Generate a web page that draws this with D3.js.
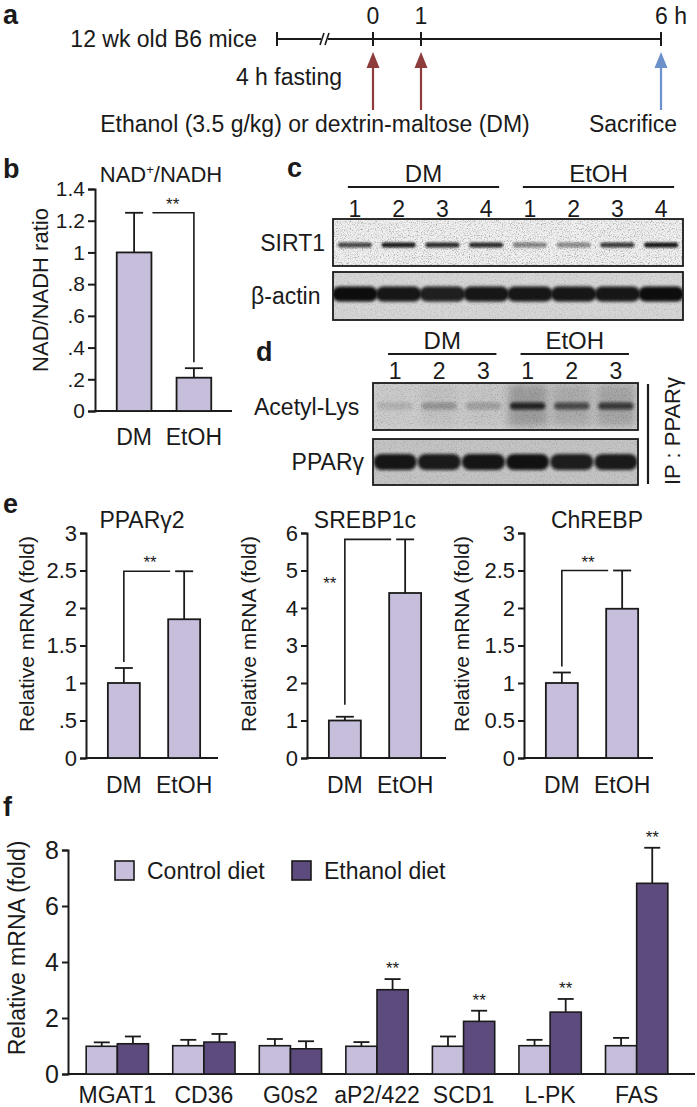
<!DOCTYPE html>
<html><head><meta charset="utf-8">
<script src="https://cdn.jsdelivr.net/npm/d3@7"></script>
<style>
body{margin:0;background:#fff}
svg{display:block}
</style>
</head><body>
<svg id="fig" width="697" height="1107"></svg>
<script>
// ================= DATA =================
// panel a : timeline (hours)
const timePoints = [0, 1, 6];
const timeLabels = ["0", "1", "6 h"];
const doseTimes = [0, 1];
const sacrificeTimes = [6];

// panel b : NAD+/NADH
const nadGroups = ["DM", "EtOH"];
const nadMeans = [1.0, 0.21];
const nadErrors = [0.25, 0.06];
const nadTicks = [0, 0.2, 0.4, 0.6, 0.8, 1.0, 1.2, 1.4];
const nadTickLabels = ["0", ".2", ".4", ".6", ".8", "1", "1.2", "1.4"];

// panel c : SIRT1 western blot (relative band intensity per lane)
const blotCGroups = ["DM", "EtOH"];
const blotCLanes = ["1", "2", "3", "4", "1", "2", "3", "4"];
const sirt1Bands = [0.72, 0.92, 0.85, 0.85, 0.45, 0.42, 0.78, 0.95];
const actinBands = [1.0, 0.95, 0.9, 0.95, 0.95, 0.95, 0.95, 1.0];

// panel d : IP PPARγ
const blotDGroups = ["DM", "EtOH"];
const blotDLanes = ["1", "2", "3", "1", "2", "3"];
const acetylBands = [0.12, 0.25, 0.2, 0.85, 0.62, 0.72];
const ppargBands = [0.95, 0.92, 0.95, 0.97, 0.9, 0.92];

// panel e : relative mRNA
const eGroups = ["DM", "EtOH"];
const eTitles = ["PPARγ2", "SREBP1c", "ChREBP"];
const ppargMeans = [1.0, 1.85];
const ppargErrors = [0.2, 0.64];
const srebpMeans = [1.0, 4.4];
const srebpErrors = [0.1, 1.43];
const chrebpMeans = [1.0, 1.99];
const chrebpErrors = [0.14, 0.51];
const ppargTicks = [0, 0.5, 1, 1.5, 2, 2.5, 3];
const ppargTickLabels = ["0", ".5", "1", "1.5", "2", "2.5", "3"];
const srebpTicks = [0, 1, 2, 3, 4, 5, 6];
const srebpTickLabels = ["0", "1", "2", "3", "4", "5", "6"];
const chrebpTicks = [0, 0.5, 1, 1.5, 2, 2.5, 3];
const chrebpTickLabels = ["0", "0.5", "1", "1.5", "2", "2.5", "3"];

// panel f : lipogenic genes
const genes = ["MGAT1", "CD36", "G0s2", "aP2/422", "SCD1", "L-PK", "FAS"];
const seriesNames = ["Control diet", "Ethanol diet"];
const controlMeans = [0.99, 1.01, 1.01, 0.99, 0.99, 1.01, 1.01];
const controlErrors = [0.14, 0.21, 0.24, 0.15, 0.35, 0.21, 0.28];
const ethanolMeans = [1.08, 1.14, 0.90, 3.01, 1.88, 2.21, 6.81];
const ethanolErrors = [0.26, 0.29, 0.27, 0.38, 0.38, 0.47, 1.27];
const ethanolSignificant = [false, false, false, true, true, true, true];
const fTicks = [0, 2, 4, 6, 8];

// ================= STYLE =================
const FONT = "'Liberation Sans', Arial, Helvetica, sans-serif";
const INK = "#1a1a1a";
const LIGHT = "#c6bedb";
const DARK = "#5c4b7c";
const RED = "#8e3b3b";
const BLUE = "#6c90c9";

const svg = d3.select("#fig");
const defs = svg.append("defs");
[1, 1.6, 2.5, 4].forEach((s, i) => {
  defs.append("filter").attr("id", "blur" + i).attr("x", "-50%").attr("y", "-100%")
    .attr("width", "200%").attr("height", "300%")
    .append("feGaussianBlur").attr("stdDeviation", s);
});
const noise = defs.append("filter").attr("id", "noise").attr("x", 0).attr("y", 0)
  .attr("width", "100%").attr("height", "100%");
noise.append("feTurbulence").attr("type", "fractalNoise").attr("baseFrequency", 0.85)
  .attr("numOctaves", 2).attr("seed", 7);
noise.append("feColorMatrix").attr("type", "matrix")
  .attr("values", "0 0 0 0 0  0 0 0 0 0  0 0 0 0 0  1.6 0 0 0 -0.78");

function addText(parent, x, y, str, size, anchor = "middle", weight = "normal") {
  return parent.append("text").attr("x", x).attr("y", y)
    .attr("font-size", size).attr("text-anchor", anchor)
    .attr("font-weight", weight).attr("font-family", FONT)
    .attr("fill", INK).text(str);
}
function vText(parent, cx, cy, str, size) {
  return parent.append("text").attr("transform", `translate(${cx},${cy}) rotate(-90)`)
    .attr("font-size", size).attr("text-anchor", "middle").attr("dominant-baseline", "central")
    .attr("font-family", FONT).attr("fill", INK).text(str);
}
function styleAxis(g, size) {
  g.attr("font-family", FONT).attr("font-size", size);
  g.selectAll("path.domain").attr("stroke", INK).attr("stroke-width", 2);
  g.selectAll(".tick line").attr("stroke", INK).attr("stroke-width", 2);
  g.selectAll(".tick text").attr("fill", INK);
}

// ================= PANEL A =================
{
  const g = svg.append("g");
  const xT = d3.scaleLinear().domain([0, 6]).range([373, 661]);
  const yL = 39;
  addText(g, 3, 24, "a", 27, "start", "bold");
  addText(g, 257, yL + 8, "12 wk old B6 mice", 23, "end");
  g.append("line").attr("x1", xT(-2)).attr("x2", xT(6)).attr("y1", yL).attr("y2", yL)
    .attr("stroke", INK).attr("stroke-width", 2.2);
  g.append("line").attr("x1", xT(-2)).attr("x2", xT(-2)).attr("y1", yL - 7).attr("y2", yL + 7)
    .attr("stroke", INK).attr("stroke-width", 2);
  const bx = xT(-1);
  g.append("rect").attr("x", bx - 4).attr("y", yL - 3).attr("width", 7).attr("height", 6).attr("fill", "#fff");
  [-3, 2].forEach(o => g.append("line").attr("x1", bx + o - 2).attr("x2", bx + o + 2)
    .attr("y1", yL + 6).attr("y2", yL - 6).attr("stroke", INK).attr("stroke-width", 1.6));
  timePoints.forEach((t, i) => {
    g.append("line").attr("x1", xT(t)).attr("x2", xT(t)).attr("y1", yL - 7).attr("y2", yL + 7)
      .attr("stroke", INK).attr("stroke-width", 2);
    if (timeLabels[i].length > 1) addText(g, xT(t) - 6, 24, timeLabels[i], 23, "start");
    else addText(g, xT(t), 24, timeLabels[i], 23);
  });
  function arrow(x, color) {
    g.append("line").attr("x1", x).attr("x2", x).attr("y1", 110).attr("y2", 64)
      .attr("stroke", color).attr("stroke-width", 2.2);
    g.append("path").attr("d", `M${x},52 L${x - 6.5},68 L${x + 6.5},68 Z`).attr("fill", color);
  }
  doseTimes.forEach(t => arrow(xT(t), RED));
  sacrificeTimes.forEach(t => arrow(xT(t), BLUE));
  addText(g, 289, 85, "4 h fasting", 23);
  addText(g, 315, 132, "Ethanol (3.5 g/kg) or dextrin-maltose (DM)", 23);
  addText(g, 633, 132, "Sacrifice", 23);
}

// ================= generic bar chart =================
function barChart(opt) {
  const g = svg.append("g");
  const y = d3.scaleLinear().domain([0, opt.max]).range([opt.y0, opt.yTop]);
  const x = d3.scaleBand().domain(opt.groups).range([opt.ax + 8, opt.ax + opt.inner])
    .paddingInner(opt.pi).paddingOuter(0.23);
  const ag = g.append("g").attr("transform", `translate(${opt.ax},0)`)
    .call(d3.axisLeft(y).tickValues(opt.ticks).tickFormat((d, i) => opt.tickLabels[i])
      .tickSizeOuter(0).tickSize(opt.tick).tickPadding(3));
  styleAxis(ag, opt.fs);
  g.append("line").attr("x1", opt.ax - 1).attr("x2", opt.axEnd).attr("y1", opt.y0).attr("y2", opt.y0)
    .attr("stroke", INK).attr("stroke-width", 2);
  const bw = x.bandwidth();
  opt.groups.forEach((k, i) => {
    const m = opt.means[i], e = opt.errs[i], cx = x(k) + bw / 2;
    g.append("line").attr("x1", cx).attr("x2", cx).attr("y1", y(m)).attr("y2", y(m + e))
      .attr("stroke", INK).attr("stroke-width", 1.8);
    g.append("line").attr("x1", cx - 9).attr("x2", cx + 9).attr("y1", y(m + e)).attr("y2", y(m + e))
      .attr("stroke", INK).attr("stroke-width", 1.8);
    g.append("rect").attr("x", x(k)).attr("y", y(m)).attr("width", bw).attr("height", y(0) - y(m))
      .attr("fill", LIGHT).attr("stroke", INK).attr("stroke-width", 1.8);
    addText(g, cx, opt.y0 + opt.labelDy, k, opt.xfs || opt.fs);
  });
  const t = addText(g, opt.titleX, opt.titleY, opt.title, opt.tfs || opt.fs);
  if (opt.titleHtml) { t.text(null); opt.titleHtml(t); }
  vText(g, opt.ylabX, opt.ylabY, opt.ylab, opt.yfs || opt.fs);
  return { g, x, y, bw };
}

// ================= PANEL B =================
{
  const c = barChart({
    ax: 95, axEnd: 232, y0: 411, yTop: 189, max: 1.4, inner: 130, pi: 0.42,
    groups: nadGroups, means: nadMeans, errs: nadErrors,
    ticks: nadTicks, tickLabels: nadTickLabels, tick: 7, fs: 21, xfs: 23, yfs: 22, labelDy: 34,
    title: "NAD+/NADH", titleX: 161, titleY: 182, tfs: 22,
    titleHtml: t => { t.append("tspan").text("NAD"); t.append("tspan").attr("font-size", 13).attr("dy", -8).text("+");
      t.append("tspan").attr("dy", 8).text("/NADH"); },
    ylab: "NAD/NADH ratio", ylabX: 40, ylabY: 290
  });
  addText(c.g, 3, 178, "b", 27, "start", "bold");
  const { g, x, y, bw } = c;
  const lvl = y(nadMeans[0] + nadErrors[0]);
  const x2 = x("EtOH") + bw / 2;
  g.append("path").attr("d", `M${x("DM") + bw + 1},${lvl} H${x2} V${y(nadMeans[1] + nadErrors[1]) - 6}`)
    .attr("fill", "none").attr("stroke", INK).attr("stroke-width", 1.6);
  addText(g, (x("DM") + bw + x2) / 2, lvl - 3, "**", 17);
}

// ================= western blot helper =================
function blot(opt) {
  const g = svg.append("g");
  const x = d3.scaleBand().domain(d3.range(opt.bands.length)).range([opt.x0, opt.x1]);
  const clipId = "clip" + opt.id;
  g.append("clipPath").attr("id", clipId).append("rect")
    .attr("x", opt.x0).attr("y", opt.y0).attr("width", opt.x1 - opt.x0).attr("height", opt.y1 - opt.y0);
  const inner = g.append("g").attr("clip-path", `url(#${clipId})`);
  inner.append("rect").attr("x", opt.x0).attr("y", opt.y0).attr("width", opt.x1 - opt.x0)
    .attr("height", opt.y1 - opt.y0).attr("fill", opt.bg);
  if (opt.shade) opt.shade(inner, x);
  opt.bands.forEach((v, i) => {
    const w = x.bandwidth() * opt.bw;
    const cx = x(i) + x.bandwidth() / 2;
    inner.append("rect").attr("x", cx - w / 2).attr("y", opt.by - opt.bh / 2)
      .attr("width", w).attr("height", opt.bh).attr("rx", opt.bh / 2)
      .attr("fill", "#0d0d0d").attr("opacity", v).attr("filter", `url(#blur${opt.blur})`);
  });
  inner.append("rect").attr("x", opt.x0).attr("y", opt.y0).attr("width", opt.x1 - opt.x0)
    .attr("height", opt.y1 - opt.y0).attr("filter", "url(#noise)").attr("opacity", opt.noise);
  g.append("rect").attr("x", opt.x0).attr("y", opt.y0).attr("width", opt.x1 - opt.x0)
    .attr("height", opt.y1 - opt.y0).attr("fill", "none").attr("stroke", INK).attr("stroke-width", 1.8);
  addText(g, opt.labX, (opt.y0 + opt.y1) / 2 + 8, opt.label, 23, opt.labAnchor || "end");
  return x;
}
function laneHeader(x, lanes, groups, yNum, yLine) {
  const g = svg.append("g");
  const per = lanes.length / groups.length;
  lanes.forEach((l, i) => addText(g, x(i) + x.bandwidth() / 2, yNum, l, 23));
  groups.forEach((gr, j) => {
    const a = x(j * per) + x.bandwidth() / 2 - 7, b = x(j * per + per - 1) + x.bandwidth() / 2 + 13;
    g.append("line").attr("x1", a).attr("x2", b).attr("y1", yLine).attr("y2", yLine)
      .attr("stroke", INK).attr("stroke-width", 2.2);
    addText(g, (a + b) / 2, yLine - 5, gr, 24);
  });
}

// ================= PANEL C =================
{
  addText(svg, 287, 177, "c", 27, "start", "bold");
  const x = blot({ id: "s", bands: sirt1Bands, x0: 333, x1: 683, y0: 219, y1: 266, bg: "#efefef",
    by: 245, bh: 5, bw: 0.78, blur: 0, noise: 0.55, label: "SIRT1", labX: 325 });
  blot({ id: "a", bands: actinBands, x0: 333, x1: 683, y0: 272, y1: 320, bg: "#d6d6d6",
    by: 294, bh: 15, bw: 1.05, blur: 1, noise: 0.25, label: "β-actin", labX: 251, labAnchor: "start" });
  laneHeader(x, blotCLanes, blotCGroups, 217, 187);
}

// ================= PANEL D =================
{
  addText(svg, 256, 361, "d", 27, "start", "bold");
  const x = blot({ id: "ac", bands: acetylBands, x0: 373, x1: 638, y0: 383, y1: 430, bg: "#d3d3d3",
    by: 406, bh: 7, bw: 0.8, blur: 1, noise: 0.3, label: "Acetyl-Lys", labX: 254, labAnchor: "start",
    shade: (inner, xs) => {
      acetylBands.forEach((v, i) => {
        inner.append("rect").attr("x", xs(i) + 2).attr("y", 383).attr("width", xs.bandwidth() - 4)
          .attr("height", 44).attr("fill", "#222").attr("opacity", v * 0.35).attr("filter", "url(#blur3)");
      });
    } });
  blot({ id: "pp", bands: ppargBands, x0: 373, x1: 638, y0: 439, y1: 485, bg: "#c4c4c4",
    by: 462, bh: 16, bw: 0.98, blur: 1, noise: 0.25, label: "PPARγ", labX: 364 });
  laneHeader(x, blotDLanes, blotDGroups, 379, 354);
  svg.append("line").attr("x1", 648).attr("x2", 648).attr("y1", 384).attr("y2", 484)
    .attr("stroke", INK).attr("stroke-width", 2.2);
  vText(svg, 672, 431, "IP : PPARγ", 22);
}

// ================= PANEL E =================
{
  addText(svg, 3, 513, "e", 27, "start", "bold");
  const common = { y0: 758, yTop: 533, inner: 128, pi: 0.47, groups: eGroups, tick: 6, fs: 22, xfs: 23, tfs: 23, yfs: 21,
    labelDy: 35, titleY: 528, ylabY: 634 };
  const brk = (c, means, errs, mode) => {
    const { g, x, y, bw } = c;
    const cx1 = x("DM") + bw / 2, cx2 = x("EtOH") + bw / 2;
    const lvl = y(means[1] + errs[1]);
    g.append("path").attr("d", `M${cx1},${y(means[0] + errs[0]) - (mode ? 12 : 6)} V${lvl} H${cx2 - 14}`)
      .attr("fill", "none").attr("stroke", INK).attr("stroke-width", 1.6);
    if (mode) addText(g, cx1 - 15, lvl + 50, "**", 17);
    else addText(g, (cx1 + cx2) / 2 - 4, lvl - 3, "**", 17);
  };
  const c1 = barChart(Object.assign({}, common, { ax: 86, axEnd: 218, max: 3, means: ppargMeans, errs: ppargErrors,
    ticks: ppargTicks, tickLabels: ppargTickLabels, title: eTitles[0], titleX: 142, ylab: "Relative mRNA (fold)", ylabX: 26 }));
  brk(c1, ppargMeans, ppargErrors, 0);
  const c2 = barChart(Object.assign({}, common, { ax: 307, axEnd: 446, max: 6, means: srebpMeans, errs: srebpErrors,
    ticks: srebpTicks, tickLabels: srebpTickLabels, title: eTitles[1], titleX: 365, ylab: "Relative mRNA (fold)", ylabX: 248 }));
  brk(c2, srebpMeans, srebpErrors, 1);
  const c3 = barChart(Object.assign({}, common, { ax: 524, axEnd: 653, max: 3, means: chrebpMeans, errs: chrebpErrors,
    ticks: chrebpTicks, tickLabels: chrebpTickLabels, title: eTitles[2], titleX: 597, ylab: "Relative mRNA (fold)", ylabX: 461 }));
  brk(c3, chrebpMeans, chrebpErrors, 0);
}

// ================= PANEL F =================
{
  const g = svg.append("g");
  addText(g, 3, 816, "f", 27, "start", "bold");
  const y = d3.scaleLinear().domain([0, 8]).range([1074, 850]);
  const x0 = d3.scaleBand().domain(genes).range([68, 686]).paddingInner(0.28).paddingOuter(0.21);
  const x1 = d3.scaleBand().domain(seriesNames).range([0, x0.bandwidth()]);
  const ag = g.append("g").attr("transform", "translate(68,0)")
    .call(d3.axisLeft(y).tickValues(fTicks).tickFormat(d3.format("d")).tickSizeOuter(0).tickSize(6).tickPadding(3));
  styleAxis(ag, 25);
  g.append("line").attr("x1", 67).attr("x2", 695).attr("y1", y(0)).attr("y2", y(0))
    .attr("stroke", INK).attr("stroke-width", 2);
  vText(g, 17, 948, "Relative mRNA (fold)", 23);
  const series = [
    { name: seriesNames[0], means: controlMeans, errs: controlErrors, color: LIGHT },
    { name: seriesNames[1], means: ethanolMeans, errs: ethanolErrors, color: DARK }
  ];
  genes.forEach((gene, i) => {
    series.forEach((s, j) => {
      const bx = x0(gene) + x1(s.name), bw = x1.bandwidth(), cx = bx + bw / 2;
      const m = s.means[i], e = s.errs[i];
      g.append("line").attr("x1", cx).attr("x2", cx).attr("y1", y(m)).attr("y2", y(m + e))
        .attr("stroke", INK).attr("stroke-width", 1.8);
      g.append("line").attr("x1", cx - 8).attr("x2", cx + 8).attr("y1", y(m + e)).attr("y2", y(m + e))
        .attr("stroke", INK).attr("stroke-width", 1.8);
      g.append("rect").attr("x", bx).attr("y", y(m)).attr("width", bw).attr("height", y(0) - y(m))
        .attr("fill", s.color).attr("stroke", INK).attr("stroke-width", 1.6);
      if (j === 1 && ethanolSignificant[i]) addText(g, cx, y(m + e) - 5, "**", 17);
    });
    addText(g, x0(gene) + x0.bandwidth() / 2, 1103, gene, 23);
  });
  const lx = [115, 292];
  series.forEach((s, j) => {
    g.append("rect").attr("x", lx[j]).attr("y", 861).attr("width", 19).attr("height", 19)
      .attr("fill", s.color).attr("stroke", INK).attr("stroke-width", 1.6);
    addText(g, lx[j] + 32, 879, s.name, 23, "start");
  });
}
</script>
</body></html>
